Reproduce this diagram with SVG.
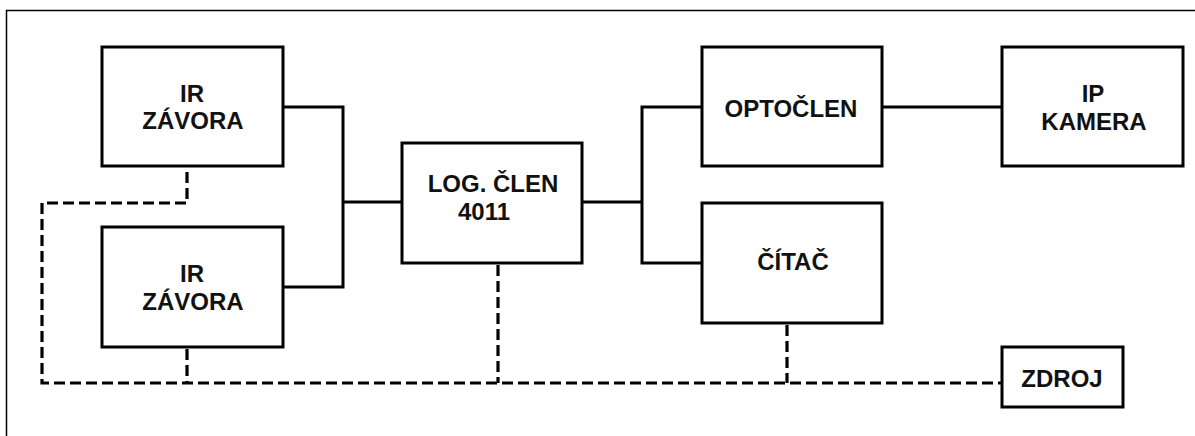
<svg xmlns="http://www.w3.org/2000/svg" width="1195" height="436" viewBox="0 0 1195 436">
<style>
.box{fill:#fff;stroke:#000;stroke-width:3}
.t{font-family:"Liberation Sans",Arial,sans-serif;font-weight:bold;font-size:24px;fill:#111;text-anchor:middle}
.w{fill:none;stroke:#000;stroke-width:3}
.d{fill:none;stroke:#000;stroke-width:3.2;stroke-dasharray:11 5}
</style>
<rect width="1195" height="436" fill="#fff"/>
<path d="M6.5,436 V10.5 H1195" fill="none" stroke="#000" stroke-width="1.5"/>
<g id="connectors">
<path class="w" d="M283,107 H343 V287 H283"/>
<path class="w" d="M343,202 H402"/>
<path class="w" d="M582,202 H642"/>
<path class="w" d="M702,107 H642 V263 H702"/>
<path class="w" d="M882,107 H1002"/>
<path class="d" d="M187,172 V203 H42 V383 H1002"/>
<path class="d" d="M187,349 V383"/>
<path class="d" d="M498,265 V383"/>
<path class="d" d="M787,325 V383"/>
</g>
<g id="ir1"><rect class="box" x="102" y="47" width="181" height="119"/><text class="t" x="192" y="102">IR</text><text class="t" x="193" y="129">ZÁVORA</text></g>
<g id="ir2"><rect class="box" x="102" y="227" width="181" height="120"/><text class="t" x="192" y="282">IR</text><text class="t" x="193" y="310">ZÁVORA</text></g>
<g id="log"><rect class="box" x="402" y="143" width="180" height="120"/><text class="t" x="493" y="192">LOG. ČLEN</text><text class="t" x="484" y="220">4011</text></g>
<g id="opto"><rect class="box" x="702" y="47" width="180" height="119"/><text class="t" x="791" y="117">OPTOČLEN</text></g>
<g id="citac"><rect class="box" x="702" y="203" width="180" height="120"/><text class="t" x="793" y="270">ČÍTAČ</text></g>
<g id="ipkamera"><rect class="box" x="1002" y="47" width="181" height="119"/><text class="t" x="1093" y="102">IP</text><text class="t" x="1094" y="130">KAMERA</text></g>
<g id="zdroj"><rect class="box" x="1002" y="347" width="121" height="60"/><text class="t" x="1062" y="387">ZDROJ</text></g>
</svg>
